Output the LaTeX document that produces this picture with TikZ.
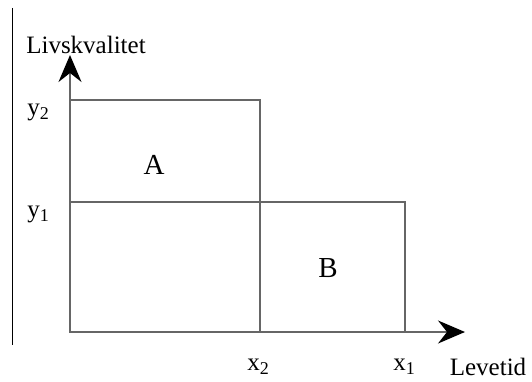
\documentclass[tikz,border=0pt]{standalone}
\usepackage{fontspec}
\setmainfont{Liberation Serif}
\usetikzlibrary{arrows.meta}
\newcommand{\subtwo}[1]{\raisebox{-0.35ex}{\fontsize{18}{18}\selectfont #1}}
\begin{document}
\begin{tikzpicture}[x=1pt,y=-1pt,
  lbl/.style={inner sep=0pt,font=\fontsize{25}{27}\selectfont},
  big/.style={inner sep=0pt,font=\fontsize{29}{31}\selectfont},
  boxline/.style={draw=black!60,line width=1.6pt},
  axis/.style={draw=black!60,line width=1.6pt,-{Stealth[length=27pt,width=23pt,inset=9pt,color=black,fill=black]}}]
\useasboundingbox (0,0) rectangle (532,382);
\draw[black,line width=1pt] (12,8) -- (12,345);
\coordinate (O) at (70,332);
\coordinate (Yt) at (70,55);
\coordinate (Xt) at (465,332);
\draw[axis] (O) -- (Yt);
\draw[axis] (O) -- (Xt);
\draw[boxline] (70,100) rectangle (260,202);
\draw[boxline] (70,202) rectangle (260,332);
\draw[boxline] (260,202) rectangle (405,332);
\node[lbl] (ly) at (86,45) {Livskvalitet};
\node[lbl] (lx) at (488,367) {Levetid};
\node[lbl] (y2) at (38,112) {y\subtwo{2}};
\node[lbl] (y1) at (38,214) {y\subtwo{1}};
\node[big] (A) at (154,165) {A};
\node[big] (B) at (328,268) {B};
\node[lbl] (x2) at (258,367) {x\subtwo{2}};
\node[lbl] (x1) at (404,367) {x\subtwo{1}};
\end{tikzpicture}
\end{document}
